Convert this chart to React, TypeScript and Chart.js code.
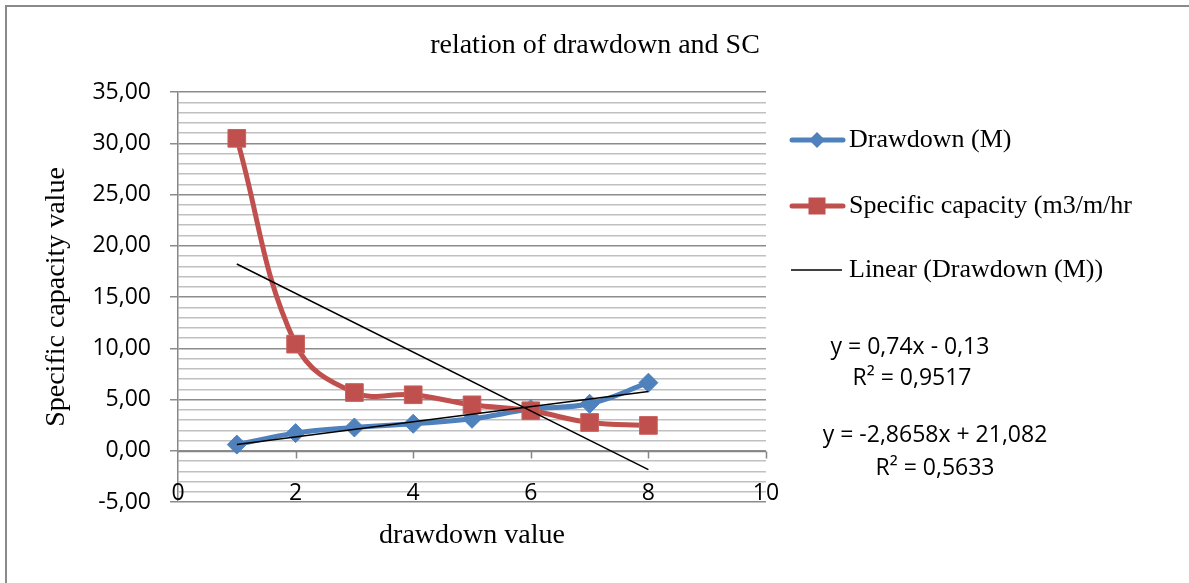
import React, { useEffect, useRef } from 'react';
import { Chart, registerables } from 'chart.js';

Chart.register(...registerables);

// ---- data ----
const xValues = [1, 2, 3, 4, 5, 6, 7, 8];
const drawdown = [0.6, 1.72, 2.27, 2.63, 3.12, 4.06, 4.58, 6.64];
const specificCapacity = [30.48, 10.4, 5.68, 5.46, 4.48, 3.9, 2.76, 2.47];
const trendSlopes = [0.74, -2.8658];
const trendIntercepts = [-0.13, 21.082];
const trendRange = [1, 8];
const seriesNames = ['Drawdown (M)', 'Specific capacity (m3/m/hr', 'Linear (Drawdown (M))'];
const equationLabels = ['y = 0,74x - 0,13', 'R² = 0,9517', 'y = -2,8658x + 21,082', 'R² = 0,5633'];
const titleText = 'relation of drawdown and SC';
const xTitle = 'drawdown value';
const yTitle = 'Specific capacity value';
const yMin = -5;
const yMax = 35;
const xMin = 0;
const xMax = 10;
const xStep = 2;

const BLUE = '#4F81BD';
const RED = '#C0504D';
const SERIF = "'Liberation Serif', serif";
const SANS = "'Open Sans', sans-serif";

const toPoints = (ys: number[]) => xValues.map((x, i) => ({ x, y: ys[i] }));
const trendPoints = (k: number) => trendRange.map((x) => ({ x, y: trendSlopes[k] * x + trendIntercepts[k] }));

const diamond = (ctx: CanvasRenderingContext2D, x: number, y: number, r: number) => {
  ctx.beginPath();
  ctx.moveTo(x - r, y);
  ctx.lineTo(x, y - r);
  ctx.lineTo(x + r, y);
  ctx.lineTo(x, y + r);
  ctx.closePath();
  ctx.fill();
};

const decorPlugin = {
  id: 'decor',
  beforeDraw(chart: any) {
    const ctx = chart.ctx as CanvasRenderingContext2D;
    ctx.save();
    ctx.fillStyle = '#ffffff';
    ctx.fillRect(0, 0, chart.width, chart.height);
    ctx.strokeStyle = '#8a8a8a';
    ctx.lineWidth = 2;
    ctx.beginPath();
    ctx.moveTo(6, chart.height);
    ctx.lineTo(6, 6);
    ctx.lineTo(chart.width, 6);
    ctx.stroke();
    ctx.restore();
  },
  beforeDatasetsDraw(chart: any) {
    const ctx = chart.ctx as CanvasRenderingContext2D;
    const xs = chart.scales.x;
    const ys = chart.scales.y;
    const y0 = Math.round(ys.getPixelForValue(0)) + 0.5;
    ctx.save();
    ctx.strokeStyle = '#868686';
    ctx.lineWidth = 1.5;
    ctx.beginPath();
    ctx.moveTo(chart.chartArea.left, y0);
    ctx.lineTo(chart.chartArea.right, y0);
    xs.ticks.forEach((t: any) => {
      if (t.value <= xMin) return;
      const px = Math.round(xs.getPixelForValue(t.value)) + 0.5;
      ctx.moveTo(px, y0);
      ctx.lineTo(px, y0 + 7);
    });
    ctx.stroke();
    // x tick labels (Excel places them just above the bottom of the plot)
    ctx.fillStyle = '#000';
    ctx.font = `23px ${SANS}`;
    ctx.textAlign = 'center';
    ctx.textBaseline = 'middle';
    const labelY = ys.getPixelForValue(yMin) - 9;
    xs.ticks.forEach((t: any) => {
      ctx.fillText(String(t.value), xs.getPixelForValue(t.value), labelY);
    });
    ctx.restore();
  },
  afterDraw(chart: any) {
    const ctx = chart.ctx as CanvasRenderingContext2D;
    ctx.save();
    // title
    ctx.fillStyle = '#000';
    ctx.font = `28px ${SERIF}`;
    ctx.textAlign = 'center';
    ctx.textBaseline = 'alphabetic';
    ctx.fillText(titleText, 595, 53);

    // legend
    const rows = [140, 206, 270];
    ctx.lineCap = 'round';
    ctx.strokeStyle = BLUE;
    ctx.lineWidth = 5;
    ctx.beginPath();
    ctx.moveTo(792, rows[0]);
    ctx.lineTo(843, rows[0]);
    ctx.stroke();
    ctx.fillStyle = BLUE;
    diamond(ctx, 817, rows[0], 8);
    ctx.strokeStyle = RED;
    ctx.beginPath();
    ctx.moveTo(792, rows[1]);
    ctx.lineTo(843, rows[1]);
    ctx.stroke();
    ctx.fillStyle = RED;
    ctx.fillRect(817 - 8.5, rows[1] - 8.5, 17, 17);
    ctx.lineCap = 'butt';
    ctx.strokeStyle = '#000';
    ctx.lineWidth = 1.5;
    ctx.beginPath();
    ctx.moveTo(791, rows[2]);
    ctx.lineTo(842, rows[2]);
    ctx.stroke();

    ctx.fillStyle = '#000';
    ctx.font = `26px ${SERIF}`;
    ctx.textAlign = 'left';
    ctx.textBaseline = 'middle';
    seriesNames.forEach((n, i) => ctx.fillText(n, 849, rows[i]));

    // trendline equations
    ctx.font = `23px ${SANS}`;
    ctx.textAlign = 'center';
    const eqPos = [
      [910, 347],
      [912, 378],
      [935, 435],
      [935, 468],
    ];
    equationLabels.forEach((t, i) => ctx.fillText(t, eqPos[i][0], eqPos[i][1]));
    ctx.restore();
  },
};

export default function App() {
  const ref = useRef<HTMLCanvasElement>(null);
  useEffect(() => {
    document.body.style.margin = '0';
    const chart = new Chart(ref.current as HTMLCanvasElement, {
      type: 'line',
      data: {
        datasets: [
          {
            label: 'Linear (Drawdown (M))',
            data: trendPoints(0),
            borderColor: '#000',
            borderWidth: 1.5,
            pointRadius: 0,
            tension: 0,
          },
          {
            label: 'Linear (Specific capacity)',
            data: trendPoints(1),
            borderColor: '#000',
            borderWidth: 1.5,
            pointRadius: 0,
            tension: 0,
          },
          {
            label: seriesNames[1],
            data: toPoints(specificCapacity),
            borderColor: RED,
            backgroundColor: RED,
            borderWidth: 5,
            borderCapStyle: 'round',
            borderJoinStyle: 'round',
            pointStyle: 'rect',
            pointRadius: 12.5,
            pointBorderWidth: 1,
            pointBackgroundColor: RED,
            pointBorderColor: '#c9605d',
            tension: 0.4,
          },
          {
            label: seriesNames[0],
            data: toPoints(drawdown),
            borderColor: BLUE,
            backgroundColor: BLUE,
            borderWidth: 5,
            borderCapStyle: 'round',
            borderJoinStyle: 'round',
            pointStyle: 'rectRot',
            pointRadius: 9.5,
            pointBorderWidth: 1,
            pointBackgroundColor: BLUE,
            pointBorderColor: BLUE,
            tension: 0.4,
          },
        ],
      } as any,
      options: {
        responsive: false,
        animation: false,
        devicePixelRatio: 1,
        layout: { padding: { left: 0, top: 92, right: 423, bottom: 0 } },
        plugins: {
          legend: { display: false },
          title: { display: false },
          tooltip: { enabled: false },
        },
        scales: {
          x: {
            type: 'linear',
            min: xMin,
            max: xMax,
            position: 'bottom',
            afterFit: (s: any) => {
              s.height = 81;
            },
            grid: { display: false },
            border: { display: false },
            ticks: {
              display: false,
              stepSize: xStep,
              autoSkip: false,
            },
            title: {
              display: true,
              text: xTitle,
              color: '#000',
              font: { family: SERIF, size: 28 },
              padding: { top: 0, bottom: 31 },
            },
          },
          y: {
            type: 'linear',
            min: yMin,
            max: yMax,
            afterFit: (s: any) => {
              s.width = 178;
            },
            ticks: {
              stepSize: 1,
              autoSkip: false,
              padding: 19,
              color: '#000',
              font: { family: SANS, size: 23 },
              callback: (v: any) => (Number(v) % 5 === 0 ? Number(v).toFixed(2).replace('.', ',') : ''),
            },
            grid: {
              color: (c: any) => (c.tick && c.tick.value % 5 === 0 ? '#8c8c8c' : '#c0c0c0'),
              lineWidth: 1.5,
              tickLength: 8,
              tickColor: (c: any) => (c.tick && c.tick.value % 5 === 0 ? '#8c8c8c' : 'rgba(0,0,0,0)'),
            },
            border: { display: true, color: '#868686', width: 1.5 },
            title: {
              display: true,
              text: yTitle,
              color: '#000',
              font: { family: SERIF, size: 28 },
              padding: { top: 40, bottom: 0 },
            },
          },
        },
      } as any,
      plugins: [decorPlugin],
    });
    return () => chart.destroy();
  }, []);
  return (
    <div style={{ position: 'relative', width: 1189, height: 583 }}>
      <canvas ref={ref} width={1189} height={583} style={{ display: 'block', width: 1189, height: 583 }} />
    </div>
  );
}
